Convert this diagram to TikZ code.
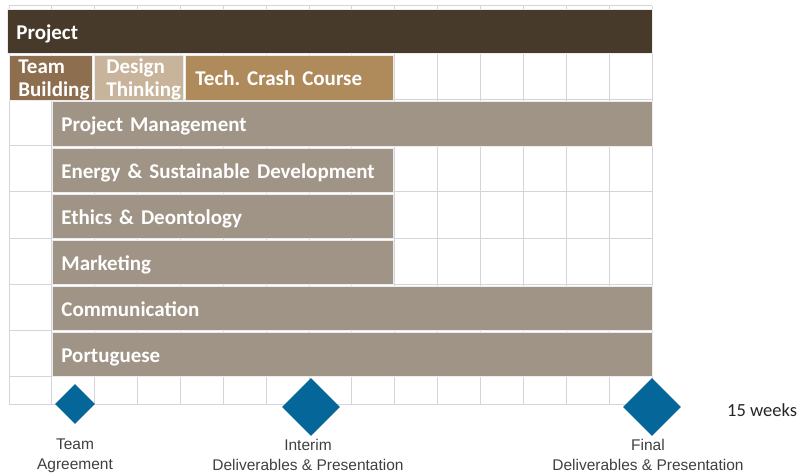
\documentclass[tikz,border=0pt]{standalone}
\usepackage{fontspec}
\newfontfamily\barfont[WordSpace=0.8]{Carlito}
\newfontfamily\weekfont{Carlito}
\newfontfamily\labfont{Liberation Sans}
\usetikzlibrary{shapes.geometric}
\frenchspacing
\definecolor{projcol}{HTML}{483A2A}
\definecolor{courscol}{HTML}{A09486}
\definecolor{teamcol}{HTML}{8D6E4E}
\definecolor{designcol}{HTML}{C8B49B}
\definecolor{techcol}{HTML}{AF8A5A}
\definecolor{gridcol}{HTML}{D4D4DA}
\definecolor{milecol}{HTML}{05669A}
\definecolor{labcol}{HTML}{404040}
\tikzset{
  bar/.style={draw=white!85!gray, line width=0.8pt, anchor=north west, inner xsep=9pt, inner ysep=0pt,
    align=left, text=white, text height=16pt, text depth=0pt,
    font=\barfont\bfseries\fontsize{21}{22}\selectfont},
  twoline/.style={inner xsep=0pt, text height=, text depth=, font=\barfont\bfseries\fontsize{21}{23}\selectfont},
  milestone/.style={diamond, aspect=1, fill=milecol, inner sep=0pt},
  mlabel/.style={align=center, text=labcol, font=\labfont\fontsize{15.5}{20}\selectfont}
}
\begin{document}
\begin{tikzpicture}[x=1pt,y=-1pt]
\useasboundingbox (0,0) rectangle (809,476);
% grid
\foreach \i in {0,...,15} \draw[gridcol, line width=1pt] ({9+\i*42.867},6) -- ({9+\i*42.867},404);
\foreach \y in {6,54,100,146,192,238,284,330,376,404} \draw[gridcol, line width=1pt] (9,\y) -- (652,\y);
% bars
\node[bar, fill=projcol, minimum height=44pt, text width={645-18}] (project) at (7,9) {Project};
\node[bar, twoline, fill=teamcol, minimum height=45pt, text width=83] (team) at (9,55) {\rule{0pt}{18pt}\hspace*{9pt}Team\\\hspace*{9pt}Building};
\node[bar, twoline, fill=designcol, minimum height=45pt, text width=89] (design) at (94,55) {\rule{0pt}{18pt}\hspace*{12pt}Design\\\hspace*{12pt}Thinking};
\node[bar, fill=techcol, minimum height=45pt, text width={208-20}, inner xsep=10pt] (tech) at (185,55) {Tech. Crash Course};
\node[bar, fill=courscol, minimum height=45pt, text width={600-18}] (pm) at (52,101) {Project Management};
\node[bar, fill=courscol, minimum height=44pt, text width={341-18}] (energy) at (52,148) {Energy \& Sustainable Development};
\node[bar, fill=courscol, minimum height=44pt, text width={341-18}] (ethics) at (52,194) {Ethics \& Deontology};
\node[bar, fill=courscol, minimum height=44pt, text width={341-18}] (marketing) at (52,240) {Marketing};
\node[bar, fill=courscol, minimum height=44pt, text width={600-18}] (comm) at (52,286) {Communication};
\node[bar, fill=courscol, minimum height=44pt, text width={600-18}] (port) at (52,332) {Portuguese};
% milestones
\node[milestone, minimum width=40pt, minimum height=40pt] (m1) at (75,404) {};
\node[milestone, minimum width=58pt, minimum height=58pt] (m2) at (311,407) {};
\node[milestone, minimum width=58pt, minimum height=58pt] (m3) at (652,407) {};
\node[mlabel] (l1) at (75,456) {Team\\Agreement};
\node[mlabel] (l2) at (308,455) {Interim\\Deliverables \& Presentation};
\node[mlabel] (l3) at (648,455) {Final\\Deliverables \& Presentation};
\node[font=\weekfont\fontsize{18.5}{20}\selectfont, text=black!85, anchor=west, inner sep=0pt] (weeks) at (727,410) {15 weeks};
\end{tikzpicture}
\end{document}
